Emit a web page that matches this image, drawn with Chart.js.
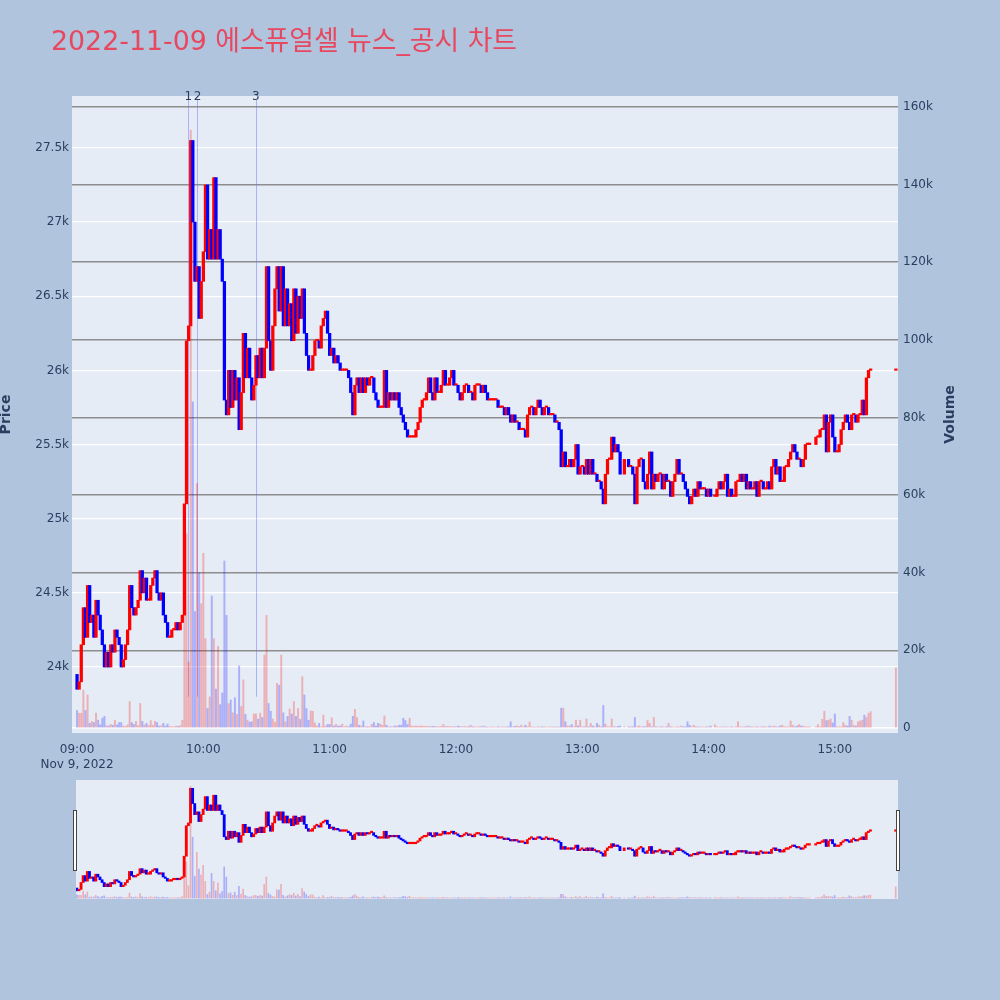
<!DOCTYPE html>
<html lang="ko">
<head>
<meta charset="UTF-8" />
<title>2022-11-09 에스퓨얼셀 뉴스_공시 차트</title>
<script src="https://cdn.jsdelivr.net/npm/chart.js"></script>
<style>
  body { margin: 0; background: #b0c4de; width: 1000px; height: 1000px; position: relative; overflow: hidden; }
  #main { position: absolute; left: 0; top: 0; }
  #slider { position: absolute; left: 0; top: 770px; }
</style>
</head>
<body>
<canvas id="main" width="1000" height="780"></canvas>
<canvas id="slider" width="1000" height="140"></canvas>
<script>
// minute candles from 09:00 (index = minutes after 09:00), null = no trade
const firstOpen = 23950;
const closes = [
  23850, 23900, 24150, 24400, 24200, 24550, 24300, 24350, 24200, 24450,
  24350, 24250, 24150, 24000, 24100, 24000, 24150, 24100, 24250, 24200,
  24150, 24000, 24050, 24150, 24250, 24550, 24400, 24350, 24400, 24450,
  24650, 24500, 24600, 24450, 24450, 24550, 24600, 24650, 24500, 24450,
  24500, 24350, 24300, 24200, 24200, 24250, 24250, 24300, 24250, 24300,
  24350, 25100, 26200, 26300, 27550, 27000, 26600, 26700, 26350, 26600,
  26800, 27250, 26750, 26950, 26750, 27300, 26750, 26950, 26750, 26600,
  25800, 25700, 26000, 25750, 26000, 25800, 25950, 25600, 25850, 26250,
  25950, 26150, 25950, 25800, 25900, 26100, 25950, 26150, 25950, 26150,
  26700, 26200, 26000, 26300, 26550, 26700, 26400, 26700, 26300, 26550,
  26300, 26450, 26200, 26550, 26250, 26500, 26350, 26550, 26250, 26100,
  26000, 26000, 26100, 26200, 26200, 26150, 26300, 26350, 26400, 26250,
  26100, 26150, 26050, 26100, 26050, 26000, 26000, 26000, 26000, 25950,
  25850, 25700, 25900, 25950, 25850, 25950, 25850, 25950, 25900, 25950,
  25950, 25850, 25800, 25750, 25750, 25750, 26000, 25750, 25850, 25800,
  25850, 25800, 25850, 25750, 25700, 25650, 25600, 25550, 25550, 25550,
  25550, 25600, 25650, 25750, 25800, 25800, 25850, 25950, 25850, 25800,
  25950, 25850, 25850, 25900, 26000, 25900, 25900, 25950, 26000, 25900,
  25900, 25850, 25800, 25850, 25900, 25900, 25850, 25850, 25800, 25900,
  25900, 25900, 25850, 25900, 25850, 25800, 25800, 25800, 25800, 25800,
  25750, 25750, 25750, 25700, 25750, 25700, 25650, 25700, 25650, 25650,
  25600, 25600, 25600, 25550, 25700, 25750, 25750, 25700, 25750, 25800,
  25750, 25700, 25750, 25750, 25700, 25700, 25700, 25650, 25650, 25600,
  25350, 25450, 25350, 25350, 25400, 25350, 25400, 25500, 25300, 25350,
  25350, 25300, 25400, 25300, 25400, 25300, 25300, 25250, 25250, 25200,
  25100, 25300, 25400, 25400, 25550, 25450, 25500, 25450, 25300, null,
  25400, null, 25350, 25350, 25300, 25100, 25350, 25400, 25400, 25250,
  25200, 25300, 25450, 25200, 25300, 25250, 25300, 25300, 25200, 25300,
  25250, 25250, 25150, 25250, 25300, 25400, 25300, 25300, 25250, 25200,
  25150, 25100, 25150, 25200, 25150, 25250, 25200, 25200, 25200, 25150,
  25200, 25150, null, 25150, 25200, 25250, 25200, 25250, 25300, 25150,
  25200, 25150, 25150, 25250, 25250, 25300, 25250, 25300, 25200, 25250,
  25200, 25200, 25250, 25150, 25250, 25250, 25200, 25200, 25250, 25200,
  25350, 25400, 25300, 25350, 25250, 25250, 25350, 25350, 25400, 25450,
  25500, 25450, 25400, 25400, 25350, 25400, 25500, 25500, 25500, null,
  null, 25550, 25550, 25600, 25600, 25700, 25450, 25650, 25700, 25550,
  25450, 25450, 25500, 25600, 25650, 25700, 25650, 25600, 25700, 25700,
  25650, 25700, 25700, 25800, 25700, 25950, 26000, 26000, null, null,
  null, null, null, null, null, null, null, null, null, 26000
];
// volume per minute, in thousands of shares
const volumesK = [
  4.5, 3.8, 3.8, 9.7, 4.5, 8.5, 1.2, 1.7, 1.4, 3.8,
  2.0, 0.8, 2.5, 3.0, 0.6, 0.5, 0.9, 0.7, 2.0, 0.8,
  1.4, 1.4, 0.5, 0.4, 0.8, 6.8, 1.4, 0.9, 1.7, 0.6,
  6.3, 1.7, 0.8, 1.2, 0.6, 1.9, 0.7, 1.7, 1.4, 0.5,
  0.6, 1.2, 0.5, 1.0, 0.4, 0.3, 0.3, 0.5, 0.4, 0.6,
  2.0, 50, 50, 17, 154, 84, 30, 63, 40, 32,
  45, 23, 5, 8, 34, 23, 10, 21, 6, 9,
  43, 29, 6.3, 7.2, 3.9, 7.8, 3.5, 16, 5.5, 12.4,
  3.5, 2.0, 1.5, 1.6, 3.6, 3.6, 2.3, 3.8, 2.7, 18.8,
  29, 6.3, 4.3, 2.3, 1.5, 11.5, 11, 18.8, 3.9, 1.6,
  3.0, 4.9, 3.6, 6.8, 3.0, 5.0, 2.2, 13.2, 8.5, 5.0,
  2.0, 4.4, 4.3, 1.3, 0.5, 1.2, 0.3, 3.3, 0.5, 0.9,
  0.9, 2.6, 0.5, 0.9, 0.5, 0.5, 1.0, 0.3, 0.5, 0.3,
  1.0, 3.0, 4.8, 2.7, 0.7, 0.5, 1.8, 0.3, 0.3, 0.3,
  0.9, 1.4, 0.5, 1.2, 1.0, 0.7, 3.1, 0.7, 0.3, 0.3,
  0.3, 0.5, 0.5, 0.7, 0.7, 2.5, 1.9, 0.9, 2.5, 0.5,
  0.4, 0.5, 0.4, 0.5, 0.5, 0.4, 0.4, 0.4, 0.3, 0.4,
  0.4, 0.3, 0.3, 0.4, 0.9, 0.3, 0.4, 0.4, 0.3, 0.3,
  0.3, 0.5, 0.3, 0.3, 0.4, 0.3, 0.3, 0.7, 0.3, 0.3,
  0.2, 0.3, 0.3, 0.5, 0.3, 0.2, 0.2, 0.3, 0.2, 0.2,
  0.3, 0.2, 0.3, 0.2, 0.3, 0.3, 1.6, 0.3, 0.4, 0.5,
  0.3, 0.7, 0.3, 0.7, 0.3, 1.5, 0.3, 0.2, 0.2, 0.3,
  0.2, 0.3, 0.3, 0.2, 0.2, 0.3, 0.3, 0.2, 0.3, 0.2,
  5.1, 5.1, 1.6, 0.5, 0.5, 0.9, 0.3, 2.0, 0.5, 2.0,
  0.3, 0.3, 2.3, 0.3, 1.2, 0.5, 0.3, 1.2, 0.7, 0.3,
  5.8, 1.0, 0.3, 0.3, 2.3, 0.3, 0.3, 0.4, 0.5, 0,
  0.3, 0, 0.3, 0.3, 0.3, 2.7, 0.3, 0.5, 0.3, 0.3,
  0.3, 1.9, 1.2, 0.3, 2.7, 0.3, 0.2, 0.3, 0.3, 0.2,
  0.3, 1.2, 0.3, 0.2, 0.2, 0.3, 0.2, 0.5, 0.3, 0.3,
  1.6, 0.7, 0.3, 0.7, 0.3, 0.3, 0.2, 0.3, 0.2, 0.3,
  0.3, 0.5, 0, 0.8, 0.3, 0.2, 0.2, 0.3, 0.3, 0.2,
  0.2, 0.3, 0.2, 0.3, 1.6, 0.3, 0.2, 0.3, 0.3, 0.5,
  0.3, 0.3, 0.2, 0.3, 0.2, 0.3, 0.3, 0.3, 0.2, 0.5,
  0.3, 0.5, 0.3, 0.3, 0.5, 0.7, 0.3, 0.3, 0.3, 1.8,
  0.7, 0.3, 0.5, 0.9, 0.5, 0.5, 0.3, 0.3, 0.3, 0,
  0, 0.3, 0.9, 0.3, 2.2, 4.3, 1.9, 2.0, 2.3, 1.3,
  3.6, 0.3, 0.3, 0.3, 1.4, 0.7, 0.5, 3.0, 2.0, 0.7,
  0.5, 1.6, 1.8, 2.0, 3.3, 2.7, 3.8, 4.2, 0, 0,
  0, 0, 0, 0, 0, 0, 0, 0, 0, 15.5
];
const priceTicks = [24000, 24500, 25000, 25500, 26000, 26500, 27000, 27500];
const volumeTicks = [0, 20000, 40000, 60000, 80000, 100000, 120000, 140000, 160000];
const timeTicks = [0, 60, 120, 180, 240, 300, 360];
const timeLabels = ['09:00', '10:00', '11:00', '12:00', '13:00', '14:00', '15:00'];
const dateLabel = 'Nov 9, 2022';
const newsMinutes = [52.8, 57.2, 84.9];
const newsLabels = ['1', '2', '3'];
const chartTitle = '2022-11-09 에스퓨얼셀 뉴스_공시 차트';

const FONT = '"DejaVu Sans", "Noto Sans CJK KR", sans-serif';
const INK = '#2a3f5f';

// build candle bodies and volume bars
var bodies = [], bodyColors = [], vols = [], volColors = [];
var prev = firstOpen;
closes.forEach(function (c, i) {
  if (c === null) return;
  var up = c >= prev;
  bodies.push({ x: i, y: [prev, c] });
  bodyColors.push(up ? '#ff0000' : '#0000ff');
  vols.push({ x: i, y: volumesK[i] * 1000 });
  volColors.push(up ? 'rgba(255,0,0,0.26)' : 'rgba(0,0,255,0.26)');
  prev = c;
});

const plotBg = {
  id: 'plotBg',
  beforeDraw(chart) {
    const { ctx, chartArea: a } = chart;
    ctx.save();
    ctx.fillStyle = '#e5ecf6';
    ctx.fillRect(a.left, a.top, a.right - a.left, a.bottom - a.top);
    ctx.restore();
  }
};

const newsLines = {
  id: 'newsLines',
  beforeDatasetsDraw(chart) {
    const { ctx, chartArea: a, scales } = chart;
    ctx.save();
    ctx.strokeStyle = 'rgba(99,110,250,0.45)';
    ctx.lineWidth = 1;
    newsMinutes.forEach(function (m) {
      var x = Math.round(scales.x.getPixelForValue(m)) + 0.5;
      ctx.beginPath();
      ctx.moveTo(x, a.top + 4);
      ctx.lineTo(x, scales.y.getPixelForValue(23800));
      ctx.stroke();
    });
    ctx.restore();
  },
  afterDraw(chart) {
    const { ctx, chartArea: a, scales } = chart;
    ctx.save();
    ctx.font = '12px ' + FONT;
    ctx.fillStyle = INK;
    ctx.textAlign = 'center';
    ctx.textBaseline = 'middle';
    newsMinutes.forEach(function (m, i) {
      ctx.fillText(newsLabels[i], scales.x.getPixelForValue(m), a.top + 1);
    });
    // chart title
    ctx.font = '27px ' + FONT;
    ctx.fillStyle = 'rgb(232,72,95)';
    ctx.textAlign = 'left';
    ctx.textBaseline = 'alphabetic';
    ctx.fillText(chartTitle, 51, 50, 466);
    // axis titles
    ctx.font = 'bold 14px ' + FONT;
    ctx.fillStyle = INK;
    ctx.textAlign = 'center';
    var mid = (a.top + a.bottom) / 2;
    ctx.translate(10, mid);
    ctx.rotate(-Math.PI / 2);
    ctx.fillText('Price', 0, 0);
    ctx.setTransform(1, 0, 0, 1, 0, 0);
    ctx.translate(954, mid);
    ctx.rotate(-Math.PI / 2);
    ctx.fillText('Volume', 0, 0);
    ctx.restore();
  }
};

function datasets(bodyWidth, volWidth) {
  return [
    { label: 'Volume', data: vols, yAxisID: 'v', backgroundColor: volColors,
      barThickness: volWidth, grouped: false, order: 3 },
    { label: 'Price', data: bodies, yAxisID: 'y', backgroundColor: bodyColors,
      barThickness: bodyWidth, minBarLength: 1.5, grouped: false, order: 1 }
  ];
}

new Chart(document.getElementById('main'), {
  type: 'bar',
  data: { datasets: datasets(2.6, 1.3) },
  plugins: [plotBg, newsLines],
  options: {
    responsive: false,
    animation: false,
    events: [],
    layout: { padding: { top: 96, left: 0, right: 0, bottom: 0 } },
    plugins: { legend: { display: false }, tooltip: { enabled: false } },
    scales: {
      x: {
        type: 'linear', min: -2.4, max: 390, offset: false,
        grid: { display: false }, border: { display: false },
        afterBuildTicks: s => { s.ticks = timeTicks.map(v => ({ value: v })); },
        afterFit: s => { s.height = 47; },
        ticks: {
          padding: 2, maxRotation: 0, autoSkip: false, color: INK, font: { family: FONT, size: 12 },
          callback: v => {
            var i = timeTicks.indexOf(v);
            return i === 0 ? [timeLabels[i], dateLabel] : timeLabels[i];
          }
        }
      },
      y: {
        position: 'left', min: 23555, max: 27850,
        grid: { color: '#ffffff', lineWidth: 1.3, drawTicks: false }, border: { display: false },
        afterBuildTicks: s => { s.ticks = priceTicks.map(v => ({ value: v })); },
        afterFit: s => { s.width = 72; },
        ticks: { padding: 3, color: INK, font: { family: FONT, size: 12 }, callback: v => (v / 1000) + 'k' }
      },
      v: {
        position: 'right', min: -1300, max: 162800,
        grid: { color: c => (c.tick && c.tick.value === 0) ? '#ffffff' : '#8e8e8e', lineWidth: 1.5, drawTicks: false },
        border: { display: false },
        afterBuildTicks: s => { s.ticks = volumeTicks.map(v => ({ value: v })); },
        afterFit: s => { s.width = 102; },
        ticks: { padding: 5, color: INK, font: { family: FONT, size: 12 }, callback: v => v === 0 ? '0' : (v / 1000) + 'k' }
      }
    }
  }
});

// range slider below the chart
const handles = {
  id: 'handles',
  afterDraw(chart) {
    const { ctx, chartArea: a } = chart;
    ctx.save();
    ctx.fillStyle = '#ffffff';
    ctx.strokeStyle = '#444444';
    ctx.lineWidth = 1;
    [a.left - 2.5, a.right - 1.5].forEach(function (x) {
      ctx.fillRect(x, 40.5, 3, 60);
      ctx.strokeRect(x, 40.5, 3, 60);
    });
    ctx.restore();
  }
};

new Chart(document.getElementById('slider'), {
  type: 'bar',
  data: { datasets: datasets(2.2, 1) },
  plugins: [plotBg, handles],
  options: {
    responsive: false,
    animation: false,
    events: [],
    layout: { padding: { top: 10, left: 76, right: 102, bottom: 11 } },
    plugins: { legend: { display: false }, tooltip: { enabled: false } },
    scales: {
      x: { type: 'linear', min: -0.4, max: 390.1, offset: false, display: false },
      y: { position: 'left', min: 23555, max: 27850, display: false },
      v: { position: 'right', min: -1300, max: 162800, display: false }
    }
  }
});
</script>
</body>
</html>
